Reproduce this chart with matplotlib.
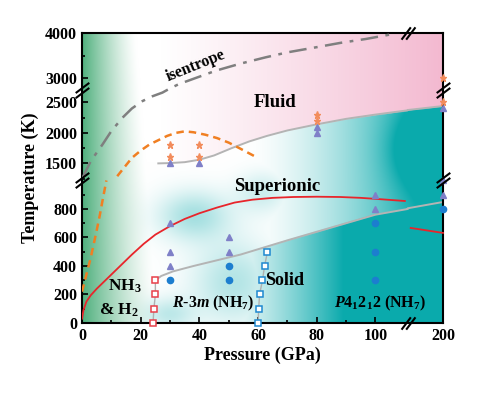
import numpy as np
import matplotlib
matplotlib.use("Agg")
import matplotlib.pyplot as plt
import matplotlib.transforms as mtransforms
from matplotlib.path import Path

plt.rcParams['font.family'] = ['Liberation Serif', 'DejaVu Serif']
plt.rcParams['font.weight'] = 'bold'
plt.rcParams['mathtext.fontset'] = 'custom'
plt.rcParams['mathtext.rm'] = 'Liberation Serif:bold'
plt.rcParams['mathtext.it'] = 'Liberation Serif:italic:bold'
plt.rcParams['mathtext.bf'] = 'Liberation Serif:bold'

# ---------------- data ----------------
red_p = [0, 0.5, 1.5, 3, 5, 7.5, 10, 13, 17, 21, 25, 30, 35, 40, 46, 52, 58, 65, 72, 80, 88, 95, 102, 110]
red_T = [30, 90, 150, 195, 240, 290, 340, 400, 480, 555, 620, 680, 730, 770, 810, 845, 865, 878, 884, 886, 884, 878, 868, 856]
red2_p = [189, 200]
red2_T = [667, 632]

solid_p = [25, 27, 31, 38, 45, 54, 62, 70, 80, 90, 100, 111, 188, 200]
solid_T = [300, 330, 362, 400, 435, 480, 530, 580, 640, 700, 760, 800, 805, 849]

fluid_p = [26, 30, 35, 40, 45, 51, 57, 63, 70, 80, 90, 100, 111, 188, 200]
fluid_T = [1500, 1505, 1520, 1560, 1630, 1750, 1860, 1950, 2040, 2140, 2230, 2300, 2370, 2375, 2440]

orange_lo_p = [0, 1, 2, 3, 4, 5, 6, 7, 8.3]
orange_lo_T = [220, 300, 380, 460, 555, 650, 750, 860, 1000]
orange_hi_p = [12, 14.5, 17, 20, 23, 26, 29, 32, 35, 38, 42, 46, 50, 54, 58.7]
orange_hi_T = [1290, 1440, 1590, 1710, 1810, 1880, 1950, 2000, 2025, 2010, 1970, 1915, 1840, 1740, 1620]

isen_p = [0.2, 3, 7, 10, 13.8, 17, 20.6, 24, 27.4, 30, 33.1, 40, 45.6, 54, 62.6, 70, 79.7, 88, 96.7, 106]
isen_T = [1266, 1540, 1811, 2030, 2249, 2400, 2521, 2600, 2660, 2770, 2867, 3030, 3163, 3320, 3460, 3570, 3682, 3780, 3867, 3978]

tri_p = [30, 30, 30, 30, 40, 50, 50, 80, 80, 100, 100, 200, 200, 200]
tri_T = [400, 500, 700, 1500, 1500, 500, 600, 2000, 2100, 800, 900, 900, 1000, 2400]
star_p = [30, 30, 40, 40, 80, 80, 200, 200]
star_T = [1600, 1800, 1600, 1800, 2200, 2300, 2500, 3000]
circ_p = [30, 50, 50, 100, 100, 100, 200]
circ_T = [300, 300, 400, 300, 500, 700, 800]

sqr_red_p = [24.2, 24.5, 25, 25]
sqr_red_T = [0, 100, 200, 300]
sqr_blue_p = [60, 60.2, 60.5, 61.5, 62.2, 63.2]
sqr_blue_T = [0, 100, 200, 300, 400, 500]

xticks_major = [0, 20, 40, 60, 80, 100, 200]
xticks_minor = [10, 30, 50, 70, 90]
yticks_major = [0, 200, 400, 600, 800, 1500, 2000, 2500, 3000, 4000]
yticks_minor = [100, 300, 500, 700, 900, 1250, 1750, 2250, 3500]

# ---------------- broken scales ----------------
X_BP = [0, 111, 188, 200]
X_FP = [0, 111, 111.001, 123.001]
Y_BP = [0, 1000, 1220, 2700, 2730, 4000]
Y_FP = [0, 142.5, 142.501, 142.501 + 1480 * 0.061, 142.502 + 1480 * 0.061, 142.502 + 1480 * 0.061 + 1270 * 0.045]


def xf(x):
    return np.interp(np.asarray(x, float), X_BP, X_FP)


def xi(x):
    return np.interp(np.asarray(x, float), X_FP, X_BP)


def yf(y):
    return np.interp(np.asarray(y, float), Y_BP, Y_FP)


def yi(y):
    return np.interp(np.asarray(y, float), Y_FP, Y_BP)


fig = plt.figure(figsize=(4.8, 3.94), dpi=100)
ax = fig.add_axes([82 / 480, 1 - 323 / 394, 361 / 480, 290 / 394])
ax.set_xscale('function', functions=(xf, xi))
ax.set_yscale('function', functions=(yf, yi))
ax.set_xlim(0, 200)
ax.set_ylim(0, 4000)


def to_axes(p, t):
    d = ax.transData.transform(np.column_stack([p, t]))
    return ax.transAxes.inverted().transform(d)


# ---------------- background ----------------
NU, NV = 480, 400
u = (np.arange(NU) + 0.5) / NU
v = (np.arange(NV) + 0.5) / NV
U, V = np.meshgrid(u, v)
fa = to_axes(fluid_p, fluid_T)
sa = to_axes(solid_p, solid_T)
vf = np.interp(U, fa[:, 0], fa[:, 1])
vs = np.interp(U, sa[:, 0], sa[:, 1])


def sstep(x, w):
    return np.clip(0.5 + x / w, 0, 1)


above = sstep(V - vf, 0.006)
below = sstep(vs - V, 0.006)
mid = (1 - above) * (1 - below)

pink_w = above * np.clip((U - 0.22) / 0.78, 0, 1) ** 1.1 * 0.92
teal_mid = np.clip((U - 0.45) / 0.5, 0, 1) ** 1.6 + 0.6 * np.exp(-((U - 0.96) ** 2 / (2 * 0.07 ** 2) + (V - 0.6) ** 2 / (2 * 0.09 ** 2)))
teal_low = np.clip((U - 0.38) / 0.35, 0, 1) ** 1.3


def blob(cu, cv, su, sv, a):
    return a * np.exp(-((U - cu) ** 2 / (2 * su ** 2) + (V - cv) ** 2 / (2 * sv ** 2)))


blobs = (blob(0.31, 0.37, 0.07, 0.06, 0.35) + blob(0.42, 0.14, 0.08, 0.1, 0.3)
         + blob(0.24, 0.03, 0.05, 0.04, 0.25) + blob(0.5, 0.45, 0.05, 0.05, 0.2))
teal_w = np.clip(mid * np.maximum(teal_mid, blobs) + below * np.maximum(teal_low, blobs), 0, 0.98)
teal_w *= (1 - above)
green_w = np.clip(1 - U / (0.21 - 0.06 * V), 0, 1) ** 1.3 * 0.95

TEAL = np.array([0.02, 0.66, 0.67])
PINK = np.array([0.95, 0.70, 0.80])
GREEN = np.array([0.27, 0.67, 0.46])
img = np.ones((NV, NU, 3))
img = img * (1 - teal_w[..., None]) + TEAL * teal_w[..., None]
img = img * (1 - pink_w[..., None]) + PINK * pink_w[..., None]
img = img * (1 - green_w[..., None]) + GREEN * green_w[..., None]
ax.imshow(img, extent=[0, 1, 0, 1], transform=ax.transAxes, origin='lower',
          aspect='auto', zorder=0, interpolation='bilinear')
ax.set_xlim(0, 200)
ax.set_ylim(0, 4000)

# ---------------- lines ----------------
ax.plot(solid_p, solid_T, color='#b4b4b4', lw=1.4, zorder=2)
ax.plot(fluid_p, fluid_T, color='#b4b4b4', lw=1.4, zorder=2)
ax.plot(red_p, red_T, color='#e8252b', lw=1.3, zorder=3)
ax.plot(red2_p, red2_T, color='#e8252b', lw=1.3, zorder=3, clip_on=False)
ax.plot(orange_lo_p, orange_lo_T, color='#f07f22', lw=1.8, ls=(0, (3, 2)), zorder=3)
ax.plot(orange_hi_p, orange_hi_T, color='#f07f22', lw=1.8, ls=(0, (3, 2)), zorder=3)
ax.plot(isen_p, isen_T, color='#7f7f7f', lw=1.8, ls=(0, (7, 3, 1.5, 3)), zorder=3)
ax.plot(sqr_red_p, sqr_red_T, color='#b0b0b0', lw=1.0, zorder=3)
ax.plot(sqr_blue_p, sqr_blue_T, color='#b0b0b0', lw=1.0, zorder=3)

# ---------------- markers ----------------
ax.plot(tri_p, tri_T, ls='none', marker='^', ms=5, color='#7f80c8', zorder=4, clip_on=False)
ax.plot(star_p, star_T, ls='none', marker='*', ms=5.2, color='#f28c5c', zorder=4, clip_on=False)
ax.plot(circ_p, circ_T, ls='none', marker='o', ms=4.5, color='#1c7ecf', zorder=4, clip_on=False)
ax.plot(sqr_red_p, sqr_red_T, ls='none', marker='s', ms=4, mfc='white', mec='#e8404a', mew=1.1, zorder=4, clip_on=False)
ax.plot(sqr_blue_p, sqr_blue_T, ls='none', marker='s', ms=4, mfc='white', mec='#1e88d0', mew=1.1, zorder=4, clip_on=False)

# ---------------- axes ----------------
ax.set_xticks(xticks_major)
ax.set_xticklabels([str(t) for t in xticks_major])
ax.set_xticks(xticks_minor, minor=True)
ax.set_yticks(yticks_major)
ax.set_yticklabels([str(t) for t in yticks_major])
ax.set_yticks(yticks_minor, minor=True)
ax.tick_params(which='both', direction='in', top=False, right=False, width=1.2, labelsize=11.5)
ax.tick_params(which='major', length=4)
ax.tick_params(which='minor', length=2.5)
for lab in ax.get_xticklabels() + ax.get_yticklabels():
    lab.set_fontweight('bold')
for s in ax.spines.values():
    s.set_linewidth(1.5)
ax.set_xlabel('Pressure (GPa)', fontsize=13, fontweight='bold', labelpad=2)
ax.set_ylabel('Temperature (K)', fontsize=13, fontweight='bold', labelpad=4)

# break marks
ybreak = Path([(-0.8, -0.9), (0.8, 0.3), (-0.8, -0.3), (0.8, 0.9)],
              [Path.MOVETO, Path.LINETO, Path.MOVETO, Path.LINETO])
xbreak = Path([(-0.9, -0.8), (0.3, 0.8), (-0.3, -0.8), (0.9, 0.8)],
              [Path.MOVETO, Path.LINETO, Path.MOVETO, Path.LINETO])
ty = mtransforms.blended_transform_factory(ax.transAxes, ax.transData)
tx = mtransforms.blended_transform_factory(ax.transData, ax.transAxes)
for yb in (1000, 2700):
    ax.plot([0, 1], [yb, yb], ls='none', marker=ybreak, ms=11, mew=1.5, color='black',
            transform=ty, clip_on=False, zorder=6)
ax.plot([111, 111], [0, 1], ls='none', marker=xbreak, ms=10, mew=1.5, color='black',
        transform=tx, clip_on=False, zorder=6)

# ---------------- texts ----------------
ax.text(0.535, 0.762, 'Fluid', transform=ax.transAxes, ha='center', va='center', fontsize=13.5, fontweight='bold', zorder=7)
ax.text(0.54, 0.472, 'Superionic', transform=ax.transAxes, ha='center', va='center', fontsize=13.5, fontweight='bold', zorder=7)
ax.text(0.562, 0.145, 'Solid', transform=ax.transAxes, ha='center', va='center', fontsize=13, fontweight='bold', zorder=7)
ax.text(0.315, 0.885, 'isentrope', transform=ax.transAxes, ha='center', va='center', fontsize=11.5, fontweight='bold', rotation=22, zorder=7)
ax.text(0.165, 0.128, 'NH$_3$', transform=ax.transAxes, ha='right', va='center', fontsize=12.5, zorder=7)
ax.text(0.158, 0.045, '& H$_2$', transform=ax.transAxes, ha='right', va='center', fontsize=12.5, zorder=7)
ax.text(0.363, 0.069, r'$\mathit{R}$-3$\mathit{m}$ (NH$_7$)', transform=ax.transAxes, ha='center', va='center', fontsize=11.5, zorder=7)
ax.text(0.826, 0.069, r'$\mathit{P}$4$_1$2$_1$2 (NH$_7$)', transform=ax.transAxes, ha='center', va='center', fontsize=11.5, zorder=7)

fig.savefig('out.png', dpi=100)
